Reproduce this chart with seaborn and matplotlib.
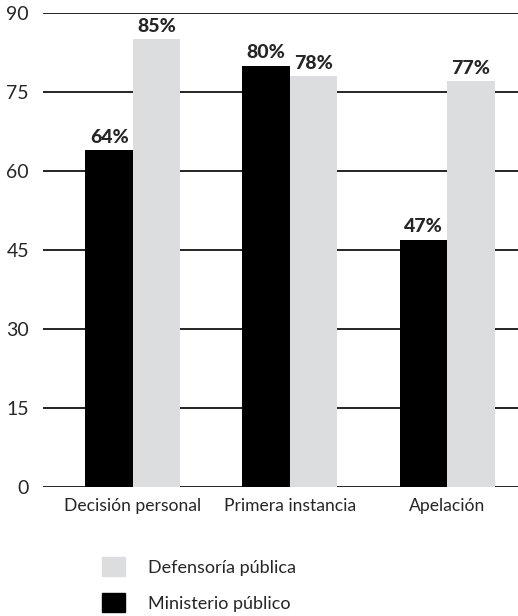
import pandas as pd
import matplotlib
matplotlib.use("Agg")
import matplotlib.pyplot as plt
import seaborn as sns
from matplotlib.patches import Patch

categories = ["Decisión personal", "Primera instancia", "Apelación"]
ministerio = [64, 80, 47]
defensoria = [85, 78, 77]
series_names = ["Ministerio público", "Defensoría pública"]
y_ticks = [0, 15, 30, 45, 60, 75, 90]

df = pd.DataFrame({
    "categoria": categories * 2,
    "valor": ministerio + defensoria,
    "serie": [series_names[0]] * 3 + [series_names[1]] * 3,
})

sns.set_style("white")
plt.rcParams["font.family"] = ["Lato", "DejaVu Sans"]

colors = {"Ministerio público": "#000000", "Defensoría pública": "#dcdddf"}

fig = plt.figure(figsize=(5.18, 6.16), dpi=100)
ax = fig.add_axes([0.083, 0.209, 0.917, 0.77])

sns.barplot(data=df, x="categoria", y="valor", hue="serie", hue_order=series_names,
            palette=colors, width=0.605, gap=0, saturation=1, linewidth=0,
            ax=ax, legend=False, zorder=3)

ax.set_ylim(0, 90)
ax.set_xlim(-0.573, 2.452)
ax.set_yticks(y_ticks)
ax.yaxis.grid(True, color="black", linewidth=1.2, zorder=0)
ax.set_axisbelow(True)
for s in ax.spines.values():
    s.set_visible(False)
ax.tick_params(axis="y", length=0, pad=10, labelsize=14)
ax.tick_params(axis="x", length=0, pad=8, labelsize=12.6)
ax.set_xlabel("")
ax.set_ylabel("")

for cont in ax.containers:
    ax.bar_label(cont, labels=[f"{int(v)}%" for v in cont.datavalues],
                 padding=3, fontsize=14, fontweight="black")

handles = [Patch(color=colors["Defensoría pública"]), Patch(color=colors["Ministerio público"])]
fig.legend(handles, ["Defensoría pública", "Ministerio público"],
           loc="upper left", bbox_to_anchor=(0.166, 0.122), frameon=False,
           fontsize=13, handlelength=1.25, handleheight=1.25, handletextpad=1.3,
           labelspacing=0.95)

fig.savefig("out.png", dpi=100)
